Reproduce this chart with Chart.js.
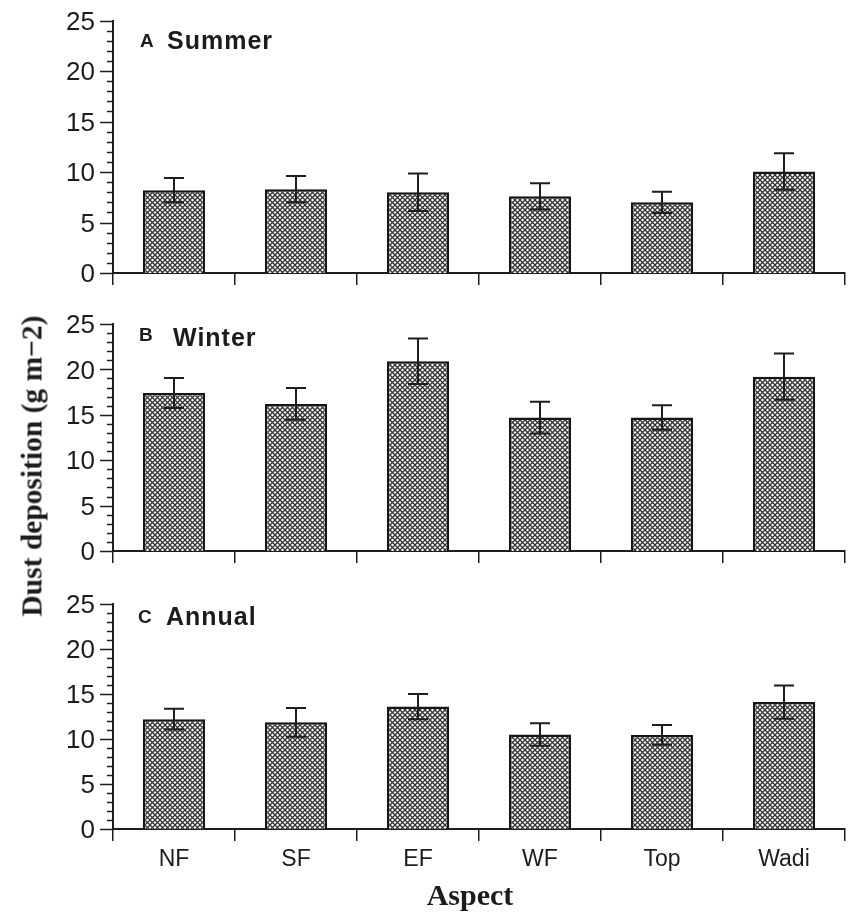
<!DOCTYPE html>
<html>
<head>
<meta charset="utf-8">
<script src="https://cdn.jsdelivr.net/npm/chart.js@4.4.1/dist/chart.umd.min.js"></script>
<style>
  html, body { margin: 0; padding: 0; background: #fff; }
  #wrap { position: relative; width: 850px; height: 913px; background: #fff; overflow: hidden; }
  canvas { position: absolute; left: 0; }
  .ytitle {
    position: absolute; left: 32px; top: 466px;
    transform: translate(-50%, -50%) rotate(-90deg);
    font: bold 29.5px "Liberation Serif", "Times New Roman", serif; color: #1c1c1c; white-space: nowrap;
  }
  .xtitle {
    position: absolute; left: 470px; top: 878px; transform: translateX(-50%);
    font: bold 30px "Liberation Serif", "Times New Roman", serif; color: #1c1c1c; white-space: nowrap;
  }
</style>
</head>
<body>
<div id="wrap">
  <canvas id="cA" width="850" height="300" style="top:0px"></canvas>
  <canvas id="cB" width="850" height="280" style="top:300px"></canvas>
  <canvas id="cC" width="850" height="333" style="top:580px"></canvas>
  <div class="ytitle">Dust deposition (g m−2)</div>
  <div class="xtitle">Aspect</div>
</div>
<script>
// Sites (aspects) along the x axis
const aspects = ['NF', 'SF', 'EF', 'WF', 'Top', 'Wadi'];

// Dust deposition, g m-2 (mean and error)
const summerMean = [8.2, 8.3, 8.0, 7.6, 7.0, 10.05];
const summerErr  = [1.2, 1.3, 1.85, 1.3, 1.05, 1.8];
const winterMean = [17.4, 16.2, 20.9, 14.7, 14.7, 19.2];
const winterErr  = [1.65, 1.75, 2.5, 1.75, 1.35, 2.55];
const annualMean = [12.2, 11.85, 13.6, 10.5, 10.45, 14.1];
const annualErr  = [1.15, 1.6, 1.4, 1.25, 1.1, 1.85];

// y axis: 0..25, major labels every 5, minor ticks every 1
const yTickValues = [0, 5, 10, 15, 20, 25];

const INK = '#1e1e1e';

function hatchPattern() {
  const s = 5;
  const c = document.createElement('canvas');
  c.width = s; c.height = s;
  const g = c.getContext('2d');
  g.fillStyle = '#fff';
  g.fillRect(0, 0, s, s);
  g.strokeStyle = '#333';
  g.lineWidth = 1.25;
  g.beginPath();
  g.moveTo(0, 0); g.lineTo(s, s);
  g.moveTo(s, 0); g.lineTo(0, s);
  g.stroke();
  return g.createPattern(c, 'repeat');
}

// error bars with caps at both ends
const errorBars = {
  id: 'errorBars',
  afterDatasetsDraw(chart) {
    const ds = chart.data.datasets[0];
    const meta = chart.getDatasetMeta(0);
    const y = chart.scales.y;
    const ctx = chart.ctx;
    ctx.save();
    ctx.strokeStyle = INK;
    ctx.lineWidth = 2;
    meta.data.forEach((bar, i) => {
      const v = ds.data[i], e = ds.errors[i];
      const yHi = y.getPixelForValue(v + e);
      const yLo = y.getPixelForValue(v - e);
      const x = bar.x, hw = 10;
      ctx.beginPath();
      ctx.moveTo(x, yHi); ctx.lineTo(x, yLo);
      ctx.moveTo(x - hw, yHi); ctx.lineTo(x + hw, yHi);
      ctx.moveTo(x - hw, yLo); ctx.lineTo(x + hw, yLo);
      ctx.stroke();
    });
    ctx.restore();
  }
};

// y axis tick marks: long at labelled values, short at every unit
const yTicks = {
  id: 'yTicks',
  afterDraw(chart) {
    const y = chart.scales.y;
    const x0 = chart.chartArea.left;
    const ctx = chart.ctx;
    ctx.save();
    ctx.strokeStyle = INK;
    ctx.lineWidth = 1.5;
    for (let v = y.min; v <= y.max; v++) {
      const py = Math.round(y.getPixelForValue(v)) + 0.5;
      const len = yTickValues.includes(v) ? 13 : 6;
      ctx.beginPath();
      ctx.moveTo(x0 - len, py); ctx.lineTo(x0, py);
      ctx.stroke();
    }
    ctx.restore();
  }
};

// panel letter and season name
const panelTitle = {
  id: 'panelTitle',
  afterDraw(chart, args, o) {
    const ctx = chart.ctx;
    const top = chart.chartArea.top;
    ctx.save();
    ctx.fillStyle = '#1c1c1c';
    ctx.textBaseline = 'alphabetic';
    ctx.textAlign = 'left';
    ctx.font = 'bold 19px "Liberation Sans", Arial, sans-serif';
    ctx.fillText(o.letter, o.letterX, top + o.letterBase);
    ctx.font = 'bold 25px "Liberation Sans", Arial, sans-serif';
    ctx.letterSpacing = '1px';
    ctx.fillText(o.name, o.nameX, top + o.nameBase);
    ctx.restore();
  }
};

function panel(id, mean, err, cfg) {
  return new Chart(document.getElementById(id), {
    type: 'bar',
    data: {
      labels: aspects,
      datasets: [{
        data: mean,
        errors: err,
        backgroundColor: hatchPattern(),
        borderColor: '#161616',
        borderWidth: 2.5,
        barPercentage: 0.51,
        categoryPercentage: 1
      }]
    },
    options: {
      responsive: false,
      animation: false,
      devicePixelRatio: 1,
      layout: { padding: { top: cfg.padTop, right: 5, left: 0, bottom: 0 } },
      plugins: {
        legend: { display: false },
        tooltip: { enabled: false },
        panelTitle: cfg.title
      },
      scales: {
        x: {
          offset: true,
          grid: { offset: true, drawOnChartArea: false, drawTicks: true, tickLength: 12, color: INK, lineWidth: 1.5 },
          border: { display: true, color: INK, width: 2 },
          ticks: {
            display: cfg.showLabels,
            color: '#1c1c1c',
            padding: 5,
            font: { family: '"Liberation Sans", Arial, sans-serif', size: 23 }
          },
          afterFit(s) { s.height = cfg.xHeight; }
        },
        y: {
          min: 0, max: 25,
          grid: { display: false, drawTicks: true, tickLength: 13 },
          border: { display: true, color: INK, width: 2 },
          ticks: {
            stepSize: 1,
            autoSkip: false,
            padding: 5,
            labelOffset: 2,
            color: '#1c1c1c',
            font: { family: '"Liberation Sans", Arial, sans-serif', size: 26 },
            callback: v => (yTickValues.includes(v) ? String(v) : '')
          },
          afterFit(s) { s.width = 113; }
        }
      }
    },
    plugins: [errorBars, yTicks, panelTitle]
  });
}

panel('cA', summerMean, summerErr, {
  padTop: 15, xHeight: 27, showLabels: false,
  title: { letter: 'A', name: 'Summer', letterX: 140, nameX: 167, letterBase: 26.7, nameBase: 28.3 }
});
panel('cB', winterMean, winterErr, {
  padTop: 24, xHeight: 29, showLabels: false,
  title: { letter: 'B', name: 'Winter', letterX: 139, nameX: 173, letterBase: 17.3, nameBase: 21.7 }
});
panel('cC', annualMean, annualErr, {
  padTop: 24, xHeight: 84, showLabels: true,
  title: { letter: 'C', name: 'Annual', letterX: 138, nameX: 166, letterBase: 18.7, nameBase: 21 }
});
</script>
</body>
</html>
